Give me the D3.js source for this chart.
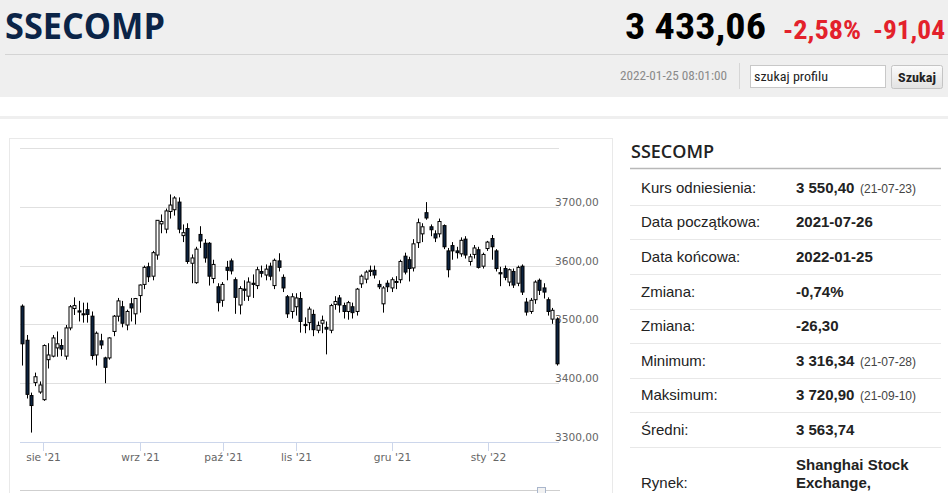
<!DOCTYPE html>
<html>
<head>
<meta charset="utf-8">
<script src="https://cdn.jsdelivr.net/npm/d3@7"></script>
<style>
  html, body { margin: 0; padding: 0; background: #fff; overflow: hidden; }
  svg { display: block; }
</style>
</head>
<body>
<svg id="page" width="948" height="493"></svg>
<script>
// ---------------- DATA ----------------
const dates = [
  "2021-07-26","2021-07-27","2021-07-28","2021-07-29","2021-07-30",
  "2021-08-02","2021-08-03","2021-08-04","2021-08-05","2021-08-06","2021-08-09","2021-08-10","2021-08-11","2021-08-12","2021-08-13",
  "2021-08-16","2021-08-17","2021-08-18","2021-08-19","2021-08-20","2021-08-23","2021-08-24","2021-08-25","2021-08-26","2021-08-27",
  "2021-08-30","2021-08-31",
  "2021-09-01","2021-09-02","2021-09-03","2021-09-06","2021-09-07","2021-09-08","2021-09-09","2021-09-10","2021-09-13","2021-09-14",
  "2021-09-15","2021-09-16","2021-09-17","2021-09-22","2021-09-23","2021-09-24","2021-09-27","2021-09-28","2021-09-29","2021-09-30",
  "2021-10-08","2021-10-11","2021-10-12","2021-10-13","2021-10-14","2021-10-15","2021-10-18","2021-10-19","2021-10-20","2021-10-21",
  "2021-10-22","2021-10-25","2021-10-26","2021-10-27","2021-10-28","2021-10-29",
  "2021-11-01","2021-11-02","2021-11-03","2021-11-04","2021-11-05","2021-11-08","2021-11-09","2021-11-10","2021-11-11","2021-11-12",
  "2021-11-15","2021-11-16","2021-11-17","2021-11-18","2021-11-19","2021-11-22","2021-11-23","2021-11-24","2021-11-25","2021-11-26",
  "2021-11-29","2021-11-30",
  "2021-12-01","2021-12-02","2021-12-03","2021-12-06","2021-12-07","2021-12-08","2021-12-09","2021-12-10","2021-12-13","2021-12-14",
  "2021-12-15","2021-12-16","2021-12-17","2021-12-20","2021-12-21","2021-12-22","2021-12-23","2021-12-24","2021-12-27","2021-12-28",
  "2021-12-29","2021-12-30","2021-12-31",
  "2022-01-04","2022-01-05","2022-01-06","2022-01-07","2022-01-10","2022-01-11","2022-01-12","2022-01-13","2022-01-14","2022-01-17",
  "2022-01-18","2022-01-19","2022-01-20","2022-01-21","2022-01-24","2022-01-25"
];
const openVals = [
  3531,3473,3379,3401,3385,3372,3440,3446,3460,3464,3446,3494,3527,3523,3518,3525,3514,3448,3472,3443,
  3443,3488,3514,3530,3499,3535,3518,3549,3568,3598,3582,3618,3671,3662,3692,3695,3708,3651,3663,3604,
  3571,3653,3638,3638,3578,3564,3541,3597,3608,3576,3533,3560,3548,3570,3566,3590,3584,3599,3566,3608,
  3580,3547,3522,3530,3544,3500,3503,3517,3490,3502,3495,3490,3534,3545,3532,3522,3530,3522,3569,3577,
  3590,3592,3568,3535,3570,3562,3572,3576,3616,3610,3596,3639,3654,3690,3666,3654,3654,3668,3625,3634,
  3625,3620,3645,3607,3619,3627,3599,3629,3646,3625,3588,3595,3572,3590,3570,3599,3538,3522,3542,3575,
  3562,3542,3509,3509
];
const highVals = [
  3534,3482,3384,3418,3403,3466,3468,3482,3488,3475,3499,3533,3546,3540,3537,3537,3522,3488,3484,3445,
  3478,3516,3545,3540,3525,3545,3545,3568,3600,3605,3625,3677,3687,3697,3721,3718,3716,3670,3672,3619,
  3632,3667,3645,3640,3610,3570,3572,3608,3612,3580,3565,3575,3580,3585,3598,3600,3602,3605,3612,3621,
  3585,3550,3553,3553,3555,3512,3530,3525,3505,3515,3505,3535,3548,3550,3537,3540,3537,3562,3585,3592,
  3600,3600,3575,3565,3575,3580,3582,3610,3622,3615,3645,3680,3672,3708,3670,3660,3680,3670,3630,3640,
  3632,3648,3650,3620,3635,3632,3622,3642,3652,3628,3598,3600,3595,3595,3600,3602,3545,3545,3575,3578,
  3570,3546,3528,3512
];
const lowVals = [
  3430,3374,3316,3395,3382,3370,3425,3444,3445,3446,3440,3490,3516,3505,3503,3503,3440,3430,3458,3400,
  3440,3480,3505,3495,3490,3505,3500,3520,3560,3572,3575,3610,3655,3655,3680,3685,3655,3640,3603,3570,
  3569,3630,3605,3566,3570,3522,3530,3575,3585,3518,3517,3540,3540,3545,3560,3580,3575,3575,3560,3590,
  3555,3511,3510,3515,3486,3485,3490,3480,3485,3485,3449,3485,3525,3520,3510,3508,3510,3515,3562,3570,
  3582,3578,3560,3520,3555,3555,3560,3570,3585,3573,3590,3630,3640,3678,3650,3640,3648,3628,3580,3610,
  3612,3615,3612,3600,3612,3595,3595,3625,3610,3590,3565,3575,3565,3562,3565,3550,3515,3518,3535,3550,
  3544,3515,3501,3430
];
const closeVals = [
  3467,3381,3362,3411,3397,3464,3448,3477,3467,3458,3494,3530,3532,3521,3517,3517,3447,3485,3465,3427,
  3477,3514,3540,3502,3522,3528,3544,3567,3597,3581,3622,3677,3675,3693,3703,3715,3662,3656,3607,3613,
  3628,3642,3613,3582,3602,3537,3568,3592,3591,3546,3561,3558,3572,3568,3593,3587,3594,3582,3609,3597,
  3562,3518,3547,3545,3505,3498,3526,3491,3498,3507,3492,3532,3539,3533,3522,3537,3520,3560,3582,3589,
  3592,3584,3564,3562,3564,3576,3573,3607,3589,3595,3637,3673,3666,3681,3661,3647,3675,3632,3593,3625,
  3622,3643,3618,3615,3630,3597,3619,3640,3632,3595,3586,3580,3593,3567,3597,3555,3521,3541,3572,3558,
  3555,3522,3524,3433
];
const yTicks = [3300, 3400, 3500, 3600, 3700, 3800];
const yTickLabels = ["3300,00", "3400,00", "3500,00", "3600,00", "3700,00", ""];
const monthTicks = ["2021-08-01", "2021-09-01", "2021-10-01", "2021-11-01", "2021-12-01", "2022-01-01"];
const monthLabels = ["sie '21", "wrz '21", "paź '21", "lis '21", "gru '21", "sty '22"];

const headerTitle = "SSECOMP";
const headerPrice = "3 433,06";
const headerPct = "-2,58%";
const headerChg = "-91,04";
const headerTime = "2022-01-25 08:01:00";

const infoLabels = ["Kurs odniesienia:", "Data początkowa:", "Data końcowa:", "Zmiana:", "Zmiana:", "Minimum:", "Maksimum:", "Średni:"];
const infoValues = ["3 550,40", "2021-07-26", "2022-01-25", "-0,74%", "-26,30", "3 316,34", "3 720,90", "3 563,74"];
const infoDates  = ["(21-07-23)", "", "", "", "", "(21-07-28)", "(21-09-10)", ""];

// ---------------- PAGE ----------------
const svg = d3.select("#page");
const narrow = "'Liberation Sans Narrow','Roboto Condensed','DejaVu Sans Condensed','Liberation Sans',sans-serif";

// header
svg.append("rect").attr("x", 0).attr("y", 0).attr("width", 948).attr("height", 97).attr("fill", "#efefef");
svg.append("text").attr("x", 5).attr("y", 39)
  .attr("font-family", "'Open Sans',sans-serif").attr("font-weight", 700).attr("font-size", 36)
  .attr("fill", "#0b2447").attr("textLength", 160).attr("lengthAdjust", "spacingAndGlyphs").text(headerTitle);
svg.append("text").attr("x", 625).attr("y", 39)
  .attr("font-family", narrow).attr("font-weight", 700).attr("font-size", 36)
  .attr("fill", "#000").attr("textLength", 141).attr("lengthAdjust", "spacingAndGlyphs").text(headerPrice);
svg.append("text").attr("x", 783).attr("y", 39)
  .attr("font-family", narrow).attr("font-weight", 700).attr("font-size", 25)
  .attr("fill", "#e3212b").attr("textLength", 78).attr("lengthAdjust", "spacingAndGlyphs").text(headerPct);
svg.append("text").attr("x", 873).attr("y", 39)
  .attr("font-family", narrow).attr("font-weight", 700).attr("font-size", 25)
  .attr("fill", "#e3212b").attr("textLength", 72).attr("lengthAdjust", "spacingAndGlyphs").text(headerChg);
svg.append("line").attr("x1", 5).attr("x2", 948).attr("y1", 54.5).attr("y2", 54.5).attr("stroke", "#d4d4d4");

svg.append("text").attr("x", 620).attr("y", 80)
  .attr("font-family", narrow).attr("font-size", 12.5).attr("fill", "#8a8a8a")
  .attr("textLength", 107).attr("lengthAdjust", "spacingAndGlyphs").text(headerTime);
svg.append("line").attr("x1", 739.5).attr("x2", 739.5).attr("y1", 63).attr("y2", 89).attr("stroke", "#d6d6d6");
svg.append("rect").attr("x", 750.5).attr("y", 65.5).attr("width", 135).attr("height", 22)
  .attr("fill", "#fff").attr("stroke", "#c8c8c8");
svg.append("text").attr("x", 754).attr("y", 80.5)
  .attr("font-family", narrow).attr("font-size", 12.5).attr("fill", "#222")
  .attr("textLength", 74).attr("lengthAdjust", "spacingAndGlyphs").text("szukaj profilu");
const grad = svg.append("defs").append("linearGradient").attr("id", "btn").attr("x1", 0).attr("x2", 0).attr("y1", 0).attr("y2", 1);
grad.append("stop").attr("offset", "0%").attr("stop-color", "#fbfbfb");
grad.append("stop").attr("offset", "100%").attr("stop-color", "#e2e2e2");
svg.append("rect").attr("x", 891.5).attr("y", 65.5).attr("width", 51).attr("height", 23).attr("rx", 2)
  .attr("fill", "url(#btn)").attr("stroke", "#c4c4c4");
svg.append("text").attr("x", 917).attr("y", 81.5).attr("text-anchor", "middle")
  .attr("font-family", narrow).attr("font-weight", 700).attr("font-size", 12.5).attr("fill", "#222")
  .attr("textLength", 38).attr("lengthAdjust", "spacingAndGlyphs").text("Szukaj");

svg.append("rect").attr("x", 0).attr("y", 116).attr("width", 948).attr("height", 3).attr("fill", "#efefef");

// chart panel
svg.append("rect").attr("x", 9.5).attr("y", 138.5).attr("width", 603).attr("height", 370)
  .attr("fill", "#fff").attr("stroke", "#e9e9e9");

// ---------------- CHART ----------------
const n = dates.length;
const x = d3.scaleLinear().domain([0, n - 1]).range([22.3, 556.7]);
const y = d3.scaleLinear().domain([3300, 3800]).range([442, 148]);
const plotLeft = 20, plotRight = 559;

// grid
const g = svg.append("g");
g.selectAll("line.grid").data(yTicks.filter(v => v > 3300)).enter().append("line")
  .attr("x1", plotLeft).attr("x2", plotRight)
  .attr("y1", d => Math.round(y(d)) + 0.5).attr("y2", d => Math.round(y(d)) + 0.5)
  .attr("stroke", "#e0e0e0").attr("stroke-width", 1);

// y labels
g.selectAll("text.ylab").data(yTicks).enter().append("text")
  .attr("x", 555).attr("y", d => y(d) - 1)
  .attr("font-family", "'DejaVu Sans',sans-serif").attr("font-size", 10.6).attr("fill", "#666")
  .text((d, i) => yTickLabels[i]);

// x axis
const parse = d3.timeParse("%Y-%m-%d");
const times = dates.map(d => +parse(d));
function ordinalIndex(t) {
  for (let i = 0; i < times.length - 1; i++) {
    if (t >= times[i] && t <= times[i + 1]) return i + (t - times[i]) / (times[i + 1] - times[i]);
  }
  return t < times[0] ? 0 : times.length - 1;
}
g.append("line").attr("x1", plotLeft).attr("x2", plotRight).attr("y1", 442.5).attr("y2", 442.5)
  .attr("stroke", "#ccd6eb");
monthTicks.forEach((m, i) => {
  const px = Math.round(x(ordinalIndex(+parse(m)))) + 0.5;
  g.append("line").attr("x1", px).attr("x2", px).attr("y1", 442).attr("y2", 451).attr("stroke", "#ccd6eb");
  g.append("text").attr("x", px).attr("y", 461).attr("text-anchor", "middle")
    .attr("font-family", "'DejaVu Sans',sans-serif").attr("font-size", 10.6).attr("fill", "#666")
    .text(monthLabels[i]);
});

// candles
const candles = g.append("g");
const idx = d3.range(n);
candles.selectAll("line.wick").data(idx).enter().append("line")
  .attr("x1", i => Math.round(x(i)) + 0.5).attr("x2", i => Math.round(x(i)) + 0.5)
  .attr("y1", i => y(highVals[i])).attr("y2", i => y(lowVals[i]))
  .attr("stroke", "#000").attr("stroke-width", 1);
candles.selectAll("rect.body").data(idx).enter().append("rect")
  .attr("x", i => Math.round(x(i)) - 1)
  .attr("width", 3)
  .attr("y", i => y(Math.max(openVals[i], closeVals[i])))
  .attr("height", i => Math.max(1, Math.abs(y(openVals[i]) - y(closeVals[i]))))
  .attr("fill", i => closeVals[i] >= openVals[i] ? "#ffffff" : "#0c2340")
  .attr("stroke", "#000").attr("stroke-width", 1);

// navigator hint at bottom
g.append("line").attr("x1", plotLeft).attr("x2", 560).attr("y1", 490.5).attr("y2", 490.5).attr("stroke", "#cfcfcf");
g.append("rect").attr("x", 537.5).attr("y", 487.5).attr("width", 8).attr("height", 8)
  .attr("fill", "#f2f2f2").attr("stroke", "#a9b6cc");

// ---------------- INFO PANEL ----------------
const info = svg.append("g");
info.append("text").attr("x", 631).attr("y", 158)
  .attr("font-family", "'Open Sans',sans-serif").attr("font-weight", 600).attr("font-size", 18)
  .attr("fill", "#222").text(headerTitle);
info.append("line").attr("x1", 630).attr("x2", 941).attr("y1", 168.5).attr("y2", 168.5)
  .attr("stroke", "#b8b8b8").attr("stroke-width", 1.5);

const rowY = d3.scaleLinear().domain([0, 1]).range([187.5, 222.1]);
infoLabels.forEach((lab, i) => {
  const cy = rowY(i);
  info.append("text").attr("x", 641).attr("y", cy + 5.3)
    .attr("font-family", "'Liberation Sans',Arial,sans-serif").attr("font-size", 15).attr("fill", "#222").text(lab);
  info.append("text").attr("x", 796).attr("y", cy + 5.3)
    .attr("font-family", "'Liberation Sans',Arial,sans-serif").attr("font-weight", 700).attr("font-size", 15)
    .attr("fill", "#222").text(infoValues[i]);
  if (infoDates[i]) {
    info.append("text").attr("x", 860).attr("y", cy + 5)
      .attr("font-family", "'Liberation Sans',Arial,sans-serif").attr("font-size", 12).attr("fill", "#444").text(infoDates[i]);
  }
  info.append("line").attr("x1", 630).attr("x2", 941)
    .attr("y1", Math.round(cy + 17.3) + 0.5).attr("y2", Math.round(cy + 17.3) + 0.5)
    .attr("stroke", "#e8e8e8");
});
info.append("text").attr("x", 641).attr("y", 488)
  .attr("font-family", "'Liberation Sans',Arial,sans-serif").attr("font-size", 15).attr("fill", "#222").text("Rynek:");
info.append("text").attr("x", 796).attr("y", 469.5)
  .attr("font-family", "'Liberation Sans',Arial,sans-serif").attr("font-weight", 700).attr("font-size", 15)
  .attr("fill", "#222").text("Shanghai Stock");
info.append("text").attr("x", 796).attr("y", 488)
  .attr("font-family", "'Liberation Sans',Arial,sans-serif").attr("font-weight", 700).attr("font-size", 15)
  .attr("fill", "#222").text("Exchange,");
</script>
</body>
</html>
